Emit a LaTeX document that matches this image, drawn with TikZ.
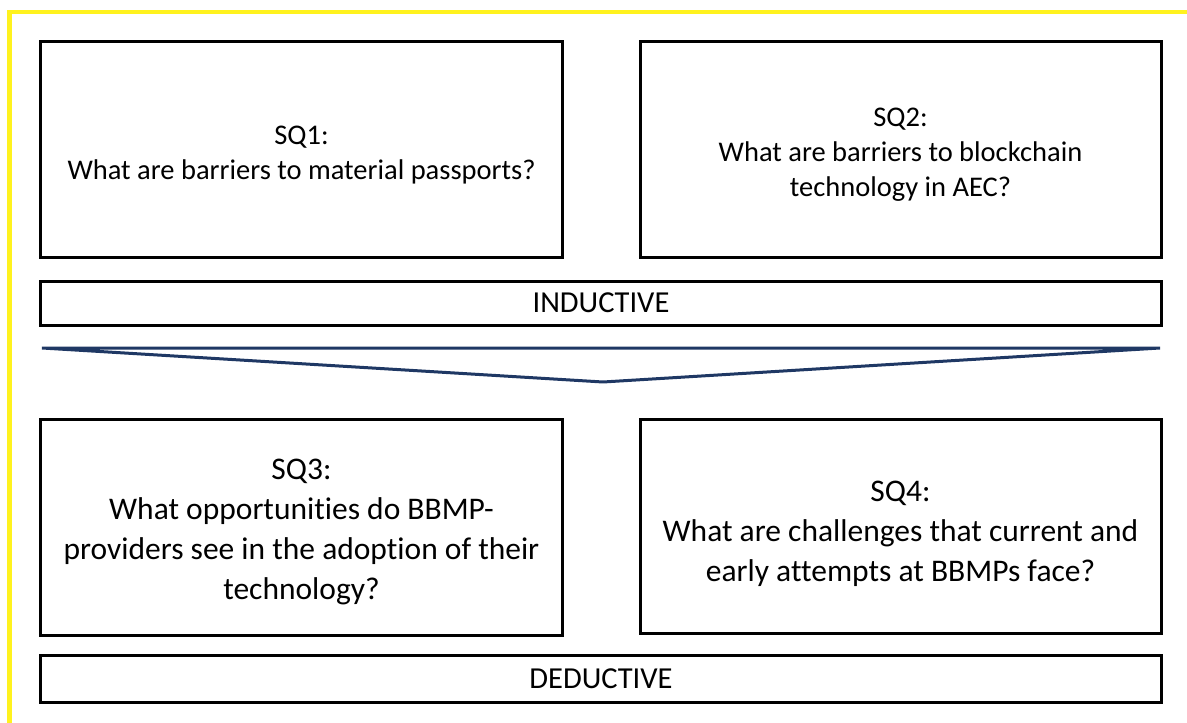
\documentclass[tikz,border=0pt]{standalone}
\usepackage{fontspec}
\setmainfont{Carlito}[Ligatures=NoCommon]
\definecolor{frameyellow}{RGB}{255,242,30}
\definecolor{chevronblue}{RGB}{31,56,100}
\begin{document}
\begin{tikzpicture}[x=1bp,y=-1bp,
  qbox/.style={draw=black, line width=3bp, rectangle, inner sep=0pt,
    minimum width=521bp, minimum height=215bp},
  qtext/.style={inner sep=0pt, align=center},
  smallq/.style={font=\fontsize{28.5bp}{35bp}\selectfont},
  largeq/.style={font=\fontsize{31.5bp}{40bp}\selectfont},
  band/.style={draw=black, line width=3bp, rectangle, inner sep=0pt,
    minimum width=1120bp, font=\fontsize{30.5bp}{36bp}\selectfont}]
\useasboundingbox (0,0) rectangle (1187,723);

% outer frame (top and left edges only)
\draw[frameyellow, line width=4.3bp] (9.5,723) -- (9.5,12) -- (1187,12);

% first research phase
\node[qbox] (sq1) at (301.5,149.5) {};
\node[qtext, smallq] (sq1q) at (301.5,155) {SQ1:\\What are barriers to material passports?};
\node[qbox] (sq2) at (900.5,149.5) {};
\node[qtext, smallq] (sq2q) at (900.5,154.5) {SQ2:\\What are barriers to blockchain\\technology in AEC?};
\node[band, minimum height=44bp] (ind) at (601,303) {INDUCTIVE};

% downward chevron between the phases
\coordinate (chl) at (42,348);
\coordinate (chr) at (1160,348);
\coordinate (chtip) at (603,382);
\draw[chevronblue, line width=3bp, line join=bevel] (chl) -- (chr) -- (chtip) -- cycle;

% second research phase
\node[qbox, minimum height=216bp] (sq3) at (301.5,527) {};
\node[qtext, largeq] (sq3q) at (301.5,532) {SQ3:\\What opportunities do BBMP-\\providers see in the adoption of their\\technology?};
\node[qbox, minimum height=214bp] (sq4) at (900.5,526) {};
\node[qtext, largeq] (sq4q) at (900.5,533.5) {SQ4:\\What are challenges that current and\\early attempts at BBMPs face?};
\node[band, minimum height=47bp] (ded) at (601,678.5) {DEDUCTIVE};
\end{tikzpicture}
\end{document}
